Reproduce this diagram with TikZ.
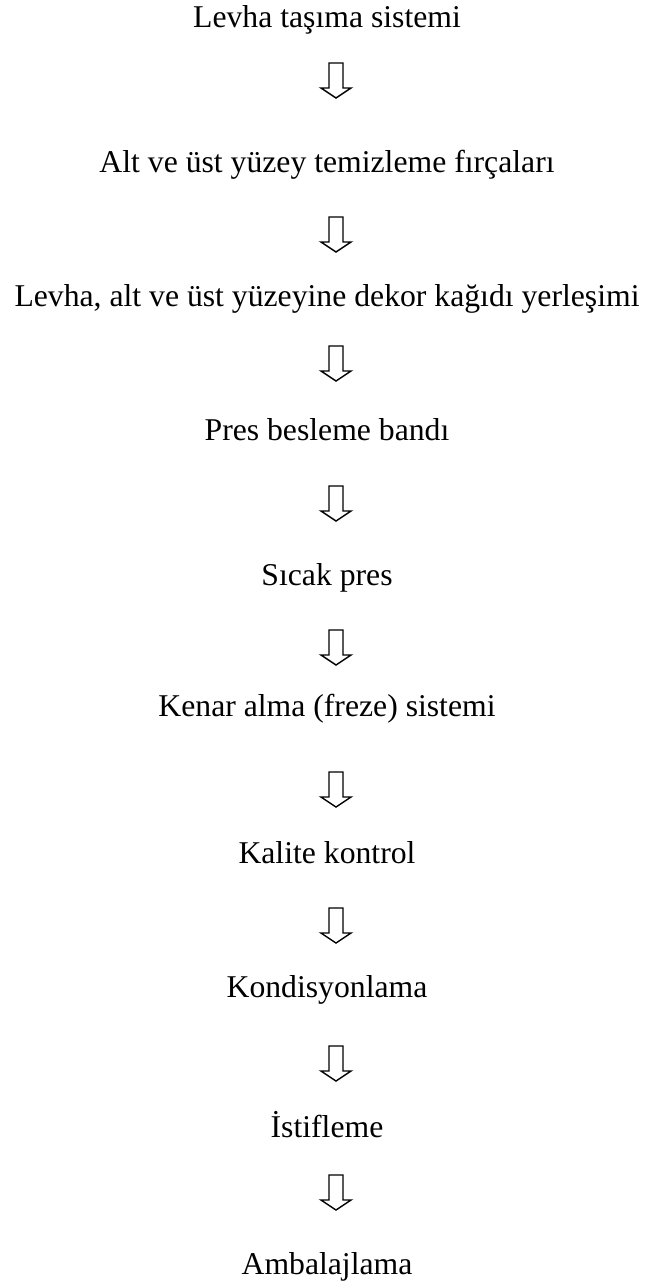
\documentclass[tikz,border=0pt]{standalone}
\usepackage{fontspec}
\setmainfont{Liberation Serif}
\begin{document}
\begin{tikzpicture}[x=1pt,y=1pt,
  steptext/.style={anchor=base,inner sep=0pt,font=\fontsize{31.7}{36}\selectfont},
  arrowline/.style={draw=black,line width=1.4pt,line join=miter,fill=white}]
\useasboundingbox (0,0) rectangle (645,-1283);
% process steps, text baselines
\node[steptext] (s1)  at (327,-27)   {Levha taşıma sistemi};
\node[steptext] (s2)  at (327,-172)  {Alt ve üst yüzey temizleme fırçaları};
\node[steptext] (s3)  at (327,-306)  {Levha, alt ve üst yüzeyine dekor kağıdı yerleşimi};
\node[steptext] (s4)  at (327,-440)  {Pres besleme bandı};
\node[steptext] (s5)  at (327,-585)  {Sıcak pres};
\node[steptext] (s6)  at (327,-716)  {Kenar alma (freze) sistemi};
\node[steptext] (s7)  at (327,-863)  {Kalite kontrol};
\node[steptext] (s8)  at (327,-997)  {Kondisyonlama};
\node[steptext] (s9)  at (327,-1137) {İstifleme};
\node[steptext] (s10) at (327,-1274) {Ambalajlama};
% tops of the hollow down arrows
\coordinate (a1) at (336,-63);
\coordinate (a2) at (336,-217);
\coordinate (a3) at (336,-346);
\coordinate (a4) at (336,-486);
\coordinate (a5) at (336,-630);
\coordinate (a6) at (336,-772);
\coordinate (a7) at (336,-908);
\coordinate (a8) at (336,-1046);
\coordinate (a9) at (336,-1175);
\foreach \a in {a1,a2,a3,a4,a5,a6,a7,a8,a9}{
  \draw[arrowline] ([xshift=-7pt]\a) -- ++(0,-25) -- ++(-8,0)
    -- ([yshift=-35pt]\a) -- ++(15,10) -- ++(-8,0) -- ++(0,25) -- cycle;
}
\end{tikzpicture}
\end{document}
